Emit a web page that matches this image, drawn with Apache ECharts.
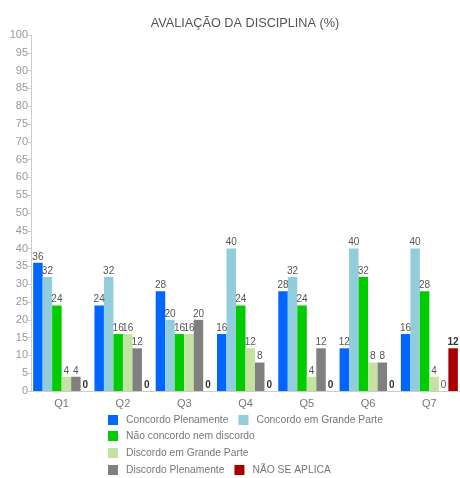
<!DOCTYPE html>
<html>
<head>
<meta charset="utf-8">
<script src="https://cdn.jsdelivr.net/npm/echarts@6/dist/echarts.min.js"></script>
<style>
  html, body { margin: 0; padding: 0; background: #fff; }
  #chart { width: 460px; height: 478px; }
</style>
</head>
<body>
<div id="chart"></div>
<script>
// data
var categories = ['Q1', 'Q2', 'Q3', 'Q4', 'Q5', 'Q6', 'Q7']
var concordoPlenamente = [36, 24, 28, 16, 28, 12, 16]
var concordoGrandeParte = [32, 32, 20, 40, 32, 40, 40]
var naoConcordoNemDiscordo = [24, 16, 16, 24, 24, 32, 28]
var discordoGrandeParte = [4, 16, 16, 12, 4, 8, 4]
var discordoPlenamente = [4, 12, 20, 8, 12, 8, 0]
var naoSeAplica = [0, 0, 0, 0, 0, 0, 12]

var legendRows = [
  ['Concordo Plenamente', 'Concordo em Grande Parte'],
  ['Não concordo nem discordo'],
  ['Discordo em Grande Parte'],
  ['Discordo Plenamente', 'NÃO SE APLICA']
]
var legendTops = [415, 431, 448, 465]

var font = '"Liberation Sans", Arial, sans-serif'

function barSeries(name, color, data, bold) {
  return {
    name: name,
    type: 'bar',
    barGap: '0%',
    barCategoryGap: '7%',
    itemStyle: { color: color },
    label: {
      show: true,
      position: 'top',
      distance: 1,
      fontFamily: font,
      fontSize: 10,
      fontWeight: bold ? 'bold' : 'normal',
      color: bold ? '#333' : '#555'
    },
    data: data
  }
}

var legends = legendRows.map(function(row, i) {
  return {
    left: 108,
    top: legendTops[i],
    padding: 0,
    itemWidth: 10,
    itemHeight: 10,
    itemGap: 10,
    icon: 'rect',
    textStyle: { fontFamily: font, fontSize: 10.3, color: '#777', padding: [0, 0, 0, 3] },
    data: row
  }
})

var chart = echarts.init(document.getElementById('chart'))
chart.setOption({
  animation: false,
  title: {
    text: 'AVALIAÇÃO DA DISCIPLINA (%)',
    left: 240,
    textAlign: 'center',
    top: 12,
    textStyle: { fontFamily: font, fontSize: 12.7, fontWeight: 'normal', color: '#555' }
  },
  grid: { left: 31, right: -1, top: 35, bottom: 87 },
  legend: legends,
  xAxis: {
    type: 'category',
    data: categories,
    axisLine: { lineStyle: { color: '#ccc' } },
    axisTick: { show: false },
    axisLabel: { fontFamily: font, fontSize: 11, color: '#777', margin: 7 }
  },
  yAxis: {
    type: 'value',
    min: 0,
    max: 100,
    interval: 5,
    splitLine: { show: false },
    axisLine: { show: true, lineStyle: { color: '#ccc' } },
    axisTick: { show: true, length: 3, lineStyle: { color: '#ccc' } },
    axisLabel: { fontFamily: font, fontSize: 11, color: '#999', margin: 3 }
  },
  series: [
    barSeries('Concordo Plenamente', '#0066ff', concordoPlenamente),
    barSeries('Concordo em Grande Parte', '#92cddc', concordoGrandeParte),
    barSeries('Não concordo nem discordo', '#00cc00', naoConcordoNemDiscordo),
    barSeries('Discordo em Grande Parte', '#c4e3a3', discordoGrandeParte),
    barSeries('Discordo Plenamente', '#808080', discordoPlenamente),
    barSeries('NÃO SE APLICA', '#aa0000', naoSeAplica, true)
  ]
})
</script>
</body>
</html>
